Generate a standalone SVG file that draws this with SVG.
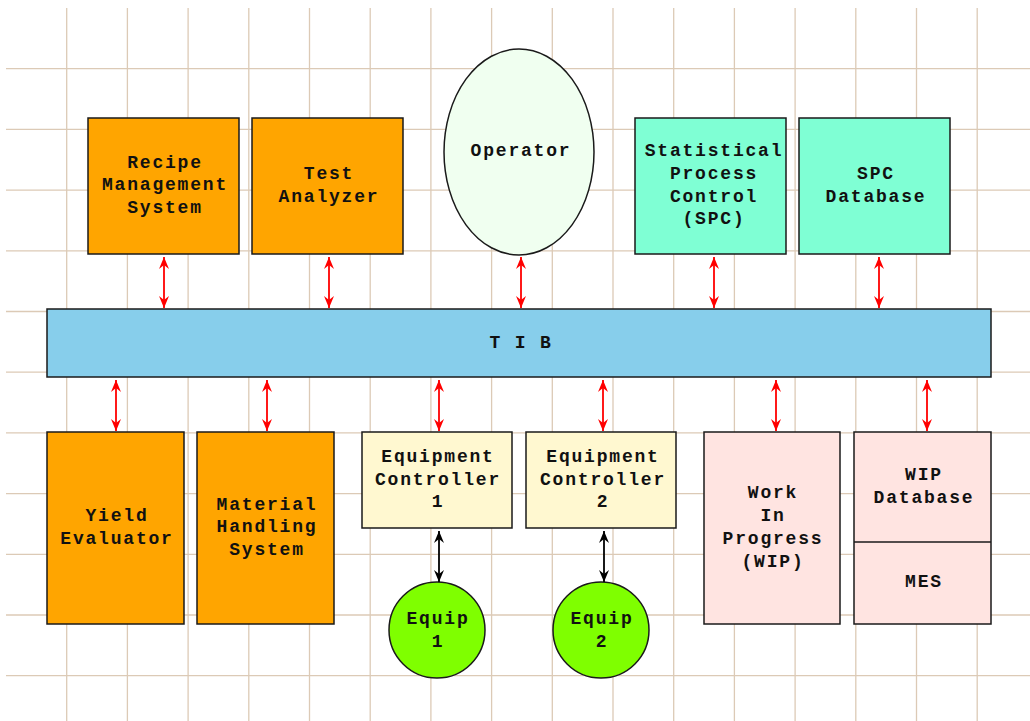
<svg xmlns="http://www.w3.org/2000/svg" width="1030" height="721" viewBox="0 0 1030 721">
<defs>
<style>
.grid line{stroke:#dccab6;stroke-width:1.3}
.box{stroke:#1a1a1a;stroke-width:1.5}
text{font-family:"Liberation Mono","Courier New",monospace;font-weight:bold;font-size:18px;letter-spacing:1.8px;fill:#111;text-anchor:middle}
.red{stroke:#ff0000;stroke-width:1.8;fill:none;marker-start:url(#rs);marker-end:url(#re)}
.blk{stroke:#000;stroke-width:1.8;fill:none;marker-start:url(#bs);marker-end:url(#be)}
</style>
<marker id="re" viewBox="0 0 12 10" refX="12" refY="5" markerWidth="12" markerHeight="10" markerUnits="userSpaceOnUse" orient="auto"><path d="M0,0 L12,5 L0,10 L4,5 Z" fill="#ff0000"/></marker>
<marker id="rs" viewBox="0 0 12 10" refX="0" refY="5" markerWidth="12" markerHeight="10" markerUnits="userSpaceOnUse" orient="auto"><path d="M12,0 L0,5 L12,10 L8,5 Z" fill="#ff0000"/></marker>
<marker id="be" viewBox="0 0 12 10" refX="12" refY="5" markerWidth="12" markerHeight="10" markerUnits="userSpaceOnUse" orient="auto"><path d="M0,0 L12,5 L0,10 L4,5 Z" fill="#000"/></marker>
<marker id="bs" viewBox="0 0 12 10" refX="0" refY="5" markerWidth="12" markerHeight="10" markerUnits="userSpaceOnUse" orient="auto"><path d="M12,0 L0,5 L12,10 L8,5 Z" fill="#000"/></marker>
</defs>
<rect width="1030" height="721" fill="#fff"/>
<g class="grid">
<line x1="66.7" y1="8" x2="66.7" y2="721"/>
<line x1="127.4" y1="8" x2="127.4" y2="721"/>
<line x1="188.1" y1="8" x2="188.1" y2="721"/>
<line x1="248.8" y1="8" x2="248.8" y2="721"/>
<line x1="309.5" y1="8" x2="309.5" y2="721"/>
<line x1="370.2" y1="8" x2="370.2" y2="721"/>
<line x1="430.9" y1="8" x2="430.9" y2="721"/>
<line x1="491.6" y1="8" x2="491.6" y2="721"/>
<line x1="552.3" y1="8" x2="552.3" y2="721"/>
<line x1="613" y1="8" x2="613" y2="721"/>
<line x1="673.7" y1="8" x2="673.7" y2="721"/>
<line x1="734.4" y1="8" x2="734.4" y2="721"/>
<line x1="795.1" y1="8" x2="795.1" y2="721"/>
<line x1="855.8" y1="8" x2="855.8" y2="721"/>
<line x1="916.5" y1="8" x2="916.5" y2="721"/>
<line x1="977.2" y1="8" x2="977.2" y2="721"/>
<line x1="6" y1="68.7" x2="1030" y2="68.7"/>
<line x1="6" y1="129.4" x2="1030" y2="129.4"/>
<line x1="6" y1="190.1" x2="1030" y2="190.1"/>
<line x1="6" y1="250.8" x2="1030" y2="250.8"/>
<line x1="6" y1="311.5" x2="1030" y2="311.5"/>
<line x1="6" y1="372.2" x2="1030" y2="372.2"/>
<line x1="6" y1="432.9" x2="1030" y2="432.9"/>
<line x1="6" y1="493.6" x2="1030" y2="493.6"/>
<line x1="6" y1="554.3" x2="1030" y2="554.3"/>
<line x1="6" y1="615" x2="1030" y2="615"/>
<line x1="6" y1="675.7" x2="1030" y2="675.7"/>
</g>
<g id="recipe"><rect class="box" x="88" y="118" width="151" height="136" fill="#ffa500"/><text x="165" y="168">Recipe</text><text x="165" y="190">Management</text><text x="165" y="213">System</text></g>
<g id="test"><rect class="box" x="252" y="118" width="151" height="136" fill="#ffa500"/><text x="329" y="179">Test</text><text x="329" y="202">Analyzer</text></g>
<g id="operator"><ellipse class="box" cx="519" cy="152" rx="75" ry="103" fill="#f0fff0"/><text x="521" y="156">Operator</text></g>
<g id="spc"><rect class="box" x="635" y="118" width="151" height="136" fill="#7fffd4"/><text x="714" y="156">Statistical</text><text x="714" y="179">Process</text><text x="714" y="202">Control</text><text x="714" y="224">(SPC)</text></g>
<g id="spcdb"><rect class="box" x="799" y="118" width="151" height="136" fill="#7fffd4"/><text x="876" y="179">SPC</text><text x="876" y="202">Database</text></g>
<g id="tib"><rect class="box" x="47" y="309" width="944" height="68" fill="#87ceeb"/><text x="521" y="348">T I B</text></g>
<g id="yield"><rect class="box" x="47" y="432" width="137" height="192" fill="#ffa500"/><text x="117" y="521">Yield</text><text x="117" y="544">Evaluator</text></g>
<g id="mhs"><rect class="box" x="197" y="432" width="137" height="192" fill="#ffa500"/><text x="267" y="510">Material</text><text x="267" y="532">Handling</text><text x="267" y="555">System</text></g>
<g id="ec1"><rect class="box" x="362" y="432" width="150" height="96" fill="#fff8d0"/><text x="438" y="462">Equipment</text><text x="438" y="485">Controller</text><text x="438" y="507">1</text></g>
<g id="ec2"><rect class="box" x="526" y="432" width="150" height="96" fill="#fff8d0"/><text x="603" y="462">Equipment</text><text x="603" y="485">Controller</text><text x="603" y="507">2</text></g>
<g id="equip1"><circle class="box" cx="437" cy="630" r="48" fill="#7fff00"/><text x="438" y="624">Equip</text><text x="438" y="647">1</text></g>
<g id="equip2"><circle class="box" cx="601" cy="630" r="48" fill="#7fff00"/><text x="602" y="624">Equip</text><text x="602" y="647">2</text></g>
<g id="wip"><rect class="box" x="704" y="432" width="136" height="192" fill="#ffe4e1"/><text x="773" y="498">Work</text><text x="773" y="521">In</text><text x="773" y="544">Progress</text><text x="773" y="567">(WIP)</text></g>
<g id="wipdb"><rect class="box" x="854" y="432" width="137" height="192" fill="#ffe4e1"/><line class="box" x1="854" y1="542" x2="991" y2="542"/><text x="924" y="480">WIP</text><text x="924" y="503">Database</text><text x="924" y="587">MES</text></g>
<g id="connectors">
<line class="red" x1="164" y1="257" x2="164" y2="308"/>
<line class="red" x1="329" y1="257" x2="329" y2="308"/>
<line class="red" x1="521" y1="257" x2="521" y2="308"/>
<line class="red" x1="714" y1="257" x2="714" y2="308"/>
<line class="red" x1="879" y1="257" x2="879" y2="308"/>
<line class="red" x1="116" y1="380" x2="116" y2="431"/>
<line class="red" x1="267" y1="380" x2="267" y2="431"/>
<line class="red" x1="439" y1="380" x2="439" y2="431"/>
<line class="red" x1="603" y1="380" x2="603" y2="431"/>
<line class="red" x1="776" y1="380" x2="776" y2="431"/>
<line class="red" x1="927" y1="380" x2="927" y2="431"/>
<line class="blk" x1="439" y1="531" x2="439" y2="582"/>
<line class="blk" x1="604" y1="531" x2="604" y2="582"/>
</g>
</svg>
